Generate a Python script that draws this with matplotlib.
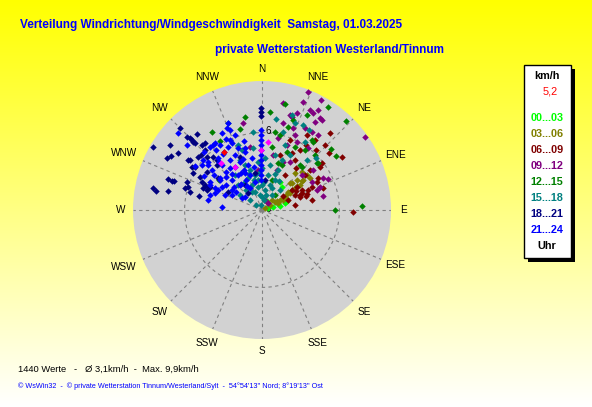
import numpy as np
import matplotlib
matplotlib.use("Agg")
import matplotlib.pyplot as plt
from matplotlib.patches import Rectangle

# ---------------- data (direction deg, speed km/h) ----------------
dir_00 = [32.7, 41, 73.1, 69.4, 74.7, 71.6, 70.2, 29, 76.6]
spd_00 = [2.58, 2.36, 1.86, 1.32, 0.88, 0.49, 2.06, 0.8, 1.43]

dir_03 = [56.3, 58, 58.4, 60.9, 60.5, 58.7, 56.3, 56.7, 53.8, 52.1, 49.4, 48, 46.5,
          56.3, 55.3, 64.5, 66.4, 45, 40.6, 46, 41.7, 57, 55, 54, 59, 61, 57]
spd_03 = [0.28, 0.73, 1.18, 1.6, 2.05, 2.54, 3.07, 3.53, 3.94, 4.42, 3.57, 3.13, 4.28,
          4.47, 2.45, 1.8, 1.35, 1.1, 0.71, 3.02, 3.84, 2.8, 3.3, 3.8, 1.4, 1.9, 2.3]

dir_06 = [41.4, 37.1, 49.6, 56.5, 51.9, 53.4, 63, 70.2, 65.3, 91.3,
          56.3, 56.7, 67, 72.3, 71.1, 65.6, 66.5, 69, 56.3,
          50.2, 50.9, 39, 32.3, 34.1, 21.8, 33.4, 33.3, 18.1,
          42, 44.1, 60.3, 78.7, 81.4, 31, 27.8, 60, 63, 68, 70]
spd_06 = [7.96, 6.81, 6.82, 7.44, 5.91, 5.6, 4.78, 5.03, 4.27, 7.06,
          2.8, 3.25, 3.37, 3.58, 3.11, 2.81, 3.89, 2.16, 1.96,
          4.84, 4.3, 4.19, 5.5, 6.09, 5.84, 4.64, 3.25, 4.49,
          6.26, 7.02, 5.0, 3.95, 2.59, 6.78, 4.99, 3.0, 3.5, 3.2, 3.7]

dir_09 = [21.5, 20.8, 28.2, 11.1, 16.4, 19.8, 27.7, 32.2, 33.7, 54.6,
          32.7, 36.7, 51.9, 62.3, 64.8, 70, 77.1, 347.7, 349.2, 13.6,
          20.7, 27.2, 36.6, 21, 12.5, 11.3, 30.3, 48.8, 60.8, 68.4,
          16.7, 40.6, 23.6, 23.7, 27.7, 31.1, 17.9, 20.6, 355, 25.6, 29.2]
spd_09 = [9.8, 8.95, 9.7, 8.45, 7.68, 7.99, 8.5, 8.43, 8.39, 9.8,
          7.18, 7.26, 5.02, 5.34, 5.65, 4.54, 4.85, 6.9, 4.97, 6.94,
          6.8, 5.93, 5.98, 5.4, 5.72, 4.35, 4.31, 4.12, 4.44, 4.84,
          0.81, 0.71, 4.06, 6.35, 7.18, 7.96, 7.57, 3.31, 3.12, 8.6, 8.89]

dir_12 = [4.7, 12.2, 32.6, 25.3, 43.3, 48.5, 53.9, 49.5, 90, 87.7,
          344.8, 327.3, 328.7, 349.6, 304.9, 9.5, 13.5, 17.4, 19, 35.6,
          43.9, 27.6, 23.3, 42.9, 18.8, 36.9, 9, 40.2, 50, 35.5,
          24, 18.4, 40.9]
spd_12 = [7.62, 8.41, 9.48, 8.15, 9.49, 7.14, 7.1, 5.61, 5.66, 7.76,
          6.51, 7.18, 6.26, 7.33, 4.06, 6.13, 5.98, 6.74, 7.38, 5.72,
          5.92, 5.51, 4.9, 4.55, 3.85, 6.59, 4.95, 4.57, 5.67, 6.67,
          3.82, 2.45, 1.54]

dir_15 = [338.7, 353.4, 339.7, 341.6, 351.7, 8.7, 17.5, 20.8, 25.8, 30.4,
          15.1, 32.3, 46.1, 42, 336.3, 339.3, 343.3, 348.7, 352.4, 338.2,
          321.3, 304.3, 309.8, 310, 352.4, 8.5, 17.7, 23.4, 9.7, 0,
          10.1, 21.8, 21.8, 13.3, 3.3, 355.2, 336.4, 326.3, 338.7, 11.3,
          33.7, 42, 0, 322.4, 316.2, 19.5, 27,
          350, 345, 0, 5, 15, 330, 340, 355, 20, 30, 350, 25]
spd_15 = [7.24, 6.09, 5.37, 4.9, 4.86, 7.14, 7.72, 7.21, 7.32, 7.19,
          6.26, 6.24, 5.81, 5.21, 4.23, 3.73, 3.24, 2.77, 2.35, 2.09,
          1.99, 2.06, 1.21, 0.61, 1.17, 1.57, 2.03, 2.53, 2.75, 3.26,
          3.54, 3.34, 4.18, 4.38, 4.04, 3.73, 2.71, 2.51, 1.5, 0.79,
          1.4, 2.09, 1.94, 3.43, 2.69, 5.35, 4.78,
          1.8, 2.4, 1.0, 2.2, 1.2, 1.6, 3.0, 2.9, 3.0, 2.6, 0.4, 1.9]

dir_18 = [300, 305.2, 298.7, 300.7, 304.2, 315, 314.2, 315, 314.6, 315,
          319.5, 304.1, 301.6, 302.7, 288.3, 287.9, 288.2, 280.2, 281.4, 290.5,
          287.3, 285.9, 284, 298.2, 298, 295, 293.7, 293.1, 290.4, 290,
          282.5, 319.6, 316.5, 314, 312, 315, 359.5, 359.5, 359.5, 281.4,
          309.6, 315, 317.3, 304.6, 293.9, 317.2, 304.8, 306, 320.5, 325.8,
          337.5, 349.3, 5.7, 298, 318]
spd_18 = [9.76, 8.73, 8.4, 8.2, 7.87, 8.99, 8.11, 7.89, 7.51, 7.34,
          7.75, 6.92, 6.37, 6.17, 7.67, 7.33, 7.18, 8.35, 7.43, 6.2,
          6.01, 6.21, 5.75, 6.07, 5.44, 5.13, 4.82, 4.55, 4.88, 4.54,
          5.0, 6.82, 6.42, 5.92, 6.37, 4.93, 7.9, 7.6, 7.29, 8.62,
          6.44, 7.67, 6.86, 5.18, 4.41, 5.6, 6.8, 4.22, 1.7, 2.34,
          4.45, 2.92, 2.34, 2.98, 5.21]

dir_21 = [312.5, 310.9, 320.5, 323, 325, 280.5, 286.1, 274.3, 295.1, 331.6,
          335.9, 301, 307.4, 338.7, 338.2, 340.2,
          359, 359, 359, 359, 359, 359, 359, 359, 359, 359, 359,
          310.3, 309.8, 308.7, 319.8, 318.4, 316.5, 327.4,
          333.9, 335.4, 335.8, 325.6, 315, 304.8, 307.3, 306.1, 298.3, 294.4,
          292.1, 303.7, 318.7, 331.9, 341.1, 342.7, 349.1, 343.7, 338.8, 326.8,
          322.5, 327.1, 322.7, 304.7, 331.4, 346, 306.9, 289.9, 332.5, 336.9,
          335.4, 344.7, 296.6, 335.3,
          300, 312, 305, 312, 320, 328, 318, 300, 310, 322,
          330, 340, 345, 350, 296, 303, 315, 325, 333, 328]
spd_21 = [8.83, 7.69, 6.33, 6.31, 6.34, 4.26, 4.19, 3.11, 4.02, 5.55,
          5.69, 1.81, 1.66, 7.24, 6.68, 6.18,
          6.2, 5.81, 5.43, 5.04, 4.65, 4.26, 3.88, 3.49, 3.1, 2.71, 2.33,
          5.99, 5.45, 4.96, 5.28, 4.67, 4.06, 4.6,
          4.75, 4.09, 3.4, 3.29, 3.29, 3.4, 4.09, 4.6, 4.58, 3.75,
          3.09, 2.8, 2.58, 2.64, 2.87, 3.65, 4.11, 4.69, 5.15, 5.38,
          5.86, 6.0, 4.09, 2.45, 1.94, 2.24, 5.81, 3.87, 6.73, 6.91,
          5.97, 4.98, 2.6, 3.16,
          5.2, 5.6, 4.0, 3.8, 3.6, 3.9, 5.0, 3.6, 2.8, 2.6,
          3.3, 4.2, 5.5, 3.4, 4.5, 6.2, 6.4, 5.3, 6.2, 2.2]

dir_avg = [359, 5, 318.9, 327.9]
spd_avg = [4.65, 5.29, 4.84, 3.94]
dir_cur = [326.8]
spd_cur = [5.38]

legend_labels = ["00...03", "03...06", "06...09", "09...12",
                 "12...15", "15...18", "18...21", "21...24"]
colors = ["#00ff00", "#808000", "#800000", "#800080",
          "#008000", "#008080", "#000080", "#0000ff"]
compass = ["N", "NNE", "NE", "ENE", "E", "ESE", "SE", "SSE",
           "S", "SSW", "SW", "WSW", "W", "WNW", "NW", "NNW"]
current_value = "5,2"
title1 = "Verteilung Windrichtung/Windgeschwindigkeit  Samstag, 01.03.2025"
title2 = "private Wetterstation Westerland/Tinnum"
stats = "1440 Werte   -   \u00d8 3,1km/h  -  Max. 9,9km/h"
footer = ("\u00a9 WsWin32  -  \u00a9 private Wetterstation Tinnum/Westerland/Sylt  -  "
          "54\u00b054'13'' Nord; 8\u00b019'13'' Ost")

series = [(dir_00, spd_00), (dir_03, spd_03), (dir_06, spd_06), (dir_09, spd_09),
          (dir_12, spd_12), (dir_15, spd_15), (dir_18, spd_18), (dir_21, spd_21)]

# ---------------- figure ----------------
W, H = 592, 407
fig = plt.figure(figsize=(W / 100, H / 100), dpi=100)

bg = fig.add_axes([0, 0, 1, 1], zorder=-10)
grad = np.linspace(0, 1, 256)
img = np.ones((256, 1, 3))
img[:, 0, 2] = grad
bg.imshow(img, aspect="auto", extent=[0, 1, 0, 1], origin="upper")
bg.set_axis_off()

cx, cy, R = 262, 210, 129
ax = fig.add_axes([(cx - R) / W, (H - cy - R) / H, 2 * R / W, 2 * R / H],
                  projection="polar")
ax.set_theta_zero_location("N")
ax.set_theta_direction(-1)
ax.set_ylim(0, 10)
ax.set_facecolor("#d2d2d2")
ax.spines["polar"].set_visible(False)
ax.grid(False)
ax.set_xticks([])
ax.set_yticks([])

dash = (0, (3.0, 3.0))
for k in range(16):
    a = np.deg2rad(k * 22.5)
    ax.plot([a, a], [0, 10], color="#808080", lw=0.8, ls=dash, zorder=1)
th = np.linspace(0, 2 * np.pi, 400)
ax.plot(th, np.full_like(th, 6.0), color="#808080", lw=0.8, ls=dash, zorder=1)

for k, name in enumerate(compass):
    a = np.deg2rad(k * 22.5)
    rr = 10.95 if k % 4 == 0 else 11.2
    if name in ("WNW", "WSW"):
        rr = 11.6
    ax.text(a, rr, name, ha="center", va="center", fontsize=7.2,
            family="Liberation Sans", color="black", clip_on=False)

ax.text(np.deg2rad(4.5), 6.15, "6", ha="center", va="center", fontsize=7.2,
        family="Liberation Sans", zorder=2)
ax.text(np.deg2rad(80), 0.5, "0", ha="center", va="center", fontsize=7.2,
        family="Liberation Sans", zorder=2)

MS = 3.3
for (d, s), c in zip(series, colors):
    ax.plot(np.deg2rad(d), s, ls="none", marker="D", ms=MS, mew=0,
            color=c, zorder=3, clip_on=False)
ax.plot(np.deg2rad(dir_avg), spd_avg, ls="none", marker="D", ms=MS, mew=0,
        color="#ff00ff", zorder=4)
ax.plot(np.deg2rad(dir_cur), spd_cur, ls="none", marker="D", ms=MS, mew=0,
        color="#ff0000", zorder=4)


def fx(px):
    return px / W


def fy(py):
    return 1 - py / H


fig.text(fx(20), fy(25), title1, ha="left", va="center", fontsize=8.45,
         fontweight="bold", color="#0000ff", family="Liberation Sans")
fig.text(fx(215), fy(50), title2, ha="left", va="center", fontsize=8.45,
         fontweight="bold", color="#0000ff", family="Liberation Sans")

# legend box with shadow
fig.add_artist(Rectangle((fx(528), fy(262)), 47 / W, 193 / H, transform=fig.transFigure,
                         facecolor="black", edgecolor="none", zorder=5))
fig.add_artist(Rectangle((fx(524), fy(258)), 47 / W, 193 / H, transform=fig.transFigure,
                         facecolor="white", edgecolor="black", lw=1, zorder=6))
fig.text(fx(547), fy(76), "km/h", ha="center", va="center", fontsize=7.8,
         fontweight="bold", color="black", family="Liberation Sans", zorder=7)
fig.text(fx(550), fy(92), current_value, ha="center", va="center", fontsize=7.8,
         color="#ff0000", family="Liberation Sans", zorder=7)
for i, (lab, c) in enumerate(zip(legend_labels, colors)):
    fig.text(fx(547), fy(118 + 16 * i), lab, ha="center", va="center", fontsize=7.8,
             fontweight="bold", color=c, family="Liberation Sans", zorder=7)
fig.text(fx(547), fy(246), "Uhr", ha="center", va="center", fontsize=7.8,
         fontweight="bold", color="black", family="Liberation Sans", zorder=7)

fig.text(fx(18), fy(369), stats, ha="left", va="center", fontsize=6.75,
         color="black", family="Liberation Sans")
fig.text(fx(18), fy(386), footer, ha="left", va="center", fontsize=5.23,
         color="#0000ff", family="Liberation Sans")

fig.savefig("out.png", dpi=100)
